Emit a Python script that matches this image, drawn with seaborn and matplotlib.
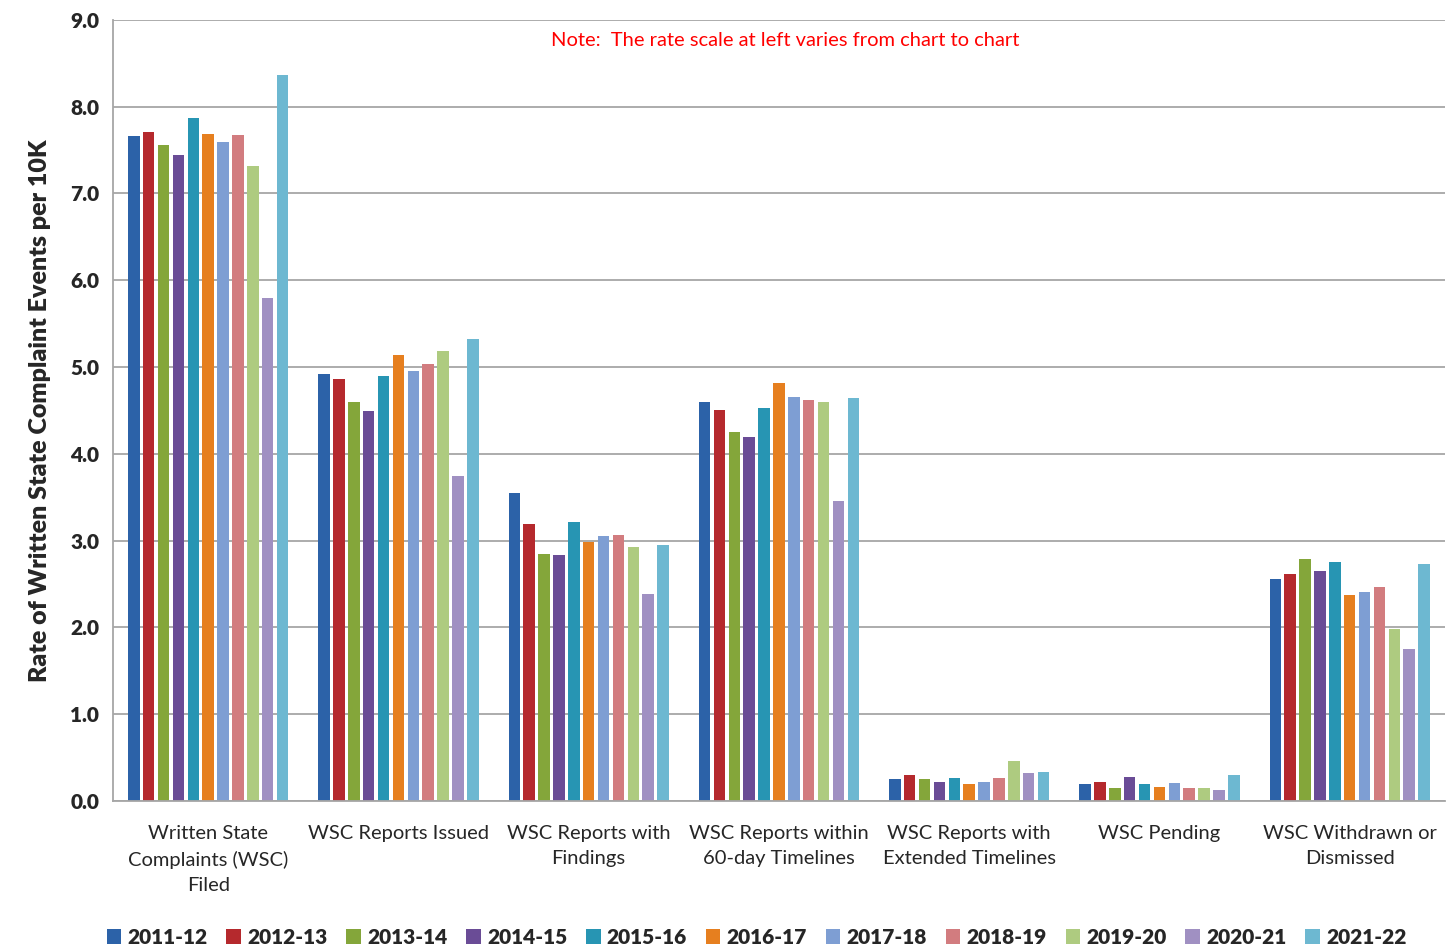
import pandas as pd
import matplotlib.pyplot as plt
import seaborn as sns
from matplotlib.ticker import FixedLocator

categories = [
    "Written State\nComplaints (WSC)\nFiled",
    "WSC Reports Issued",
    "WSC Reports with\nFindings",
    "WSC Reports within\n60-day Timelines",
    "WSC Reports with\nExtended Timelines",
    "WSC Pending",
    "WSC Withdrawn or\nDismissed",
]
years = ["2011-12", "2012-13", "2013-14", "2014-15", "2015-16", "2016-17",
         "2017-18", "2018-19", "2019-20", "2020-21", "2021-22"]

# one list per year, values in category order
y2011 = [7.66, 4.92, 3.55, 4.60, 0.25, 0.19, 2.56]
y2012 = [7.71, 4.86, 3.19, 4.51, 0.30, 0.22, 2.62]
y2013 = [7.56, 4.60, 2.85, 4.25, 0.25, 0.15, 2.79]
y2014 = [7.44, 4.49, 2.83, 4.19, 0.22, 0.28, 2.65]
y2015 = [7.87, 4.90, 3.21, 4.53, 0.26, 0.20, 2.75]
y2016 = [7.68, 5.14, 2.98, 4.82, 0.19, 0.16, 2.37]
y2017 = [7.59, 4.96, 3.05, 4.65, 0.22, 0.21, 2.41]
y2018 = [7.67, 5.03, 3.06, 4.62, 0.27, 0.15, 2.47]
y2019 = [7.32, 5.18, 2.93, 4.60, 0.46, 0.15, 1.98]
y2020 = [5.79, 3.75, 2.39, 3.46, 0.32, 0.13, 1.75]
y2021 = [8.37, 5.32, 2.95, 4.64, 0.33, 0.30, 2.73]

series = [y2011, y2012, y2013, y2014, y2015, y2016,
          y2017, y2018, y2019, y2020, y2021]

colors = ["#2C62A8", "#B5292D", "#84A63A", "#6A4C96", "#2795B3", "#E67F1F",
          "#7E9ED3", "#D27C7F", "#AECB80", "#A090C2", "#6DB8D1"]

rows = []
for yr, vals in zip(years, series):
    for cat, v in zip(categories, vals):
        rows.append({"category": cat, "year": yr, "rate": v})
df = pd.DataFrame(rows)

sns.set_style("white")
plt.rcParams["font.family"] = ["Lato", "DejaVu Sans"]

fig = plt.figure(figsize=(14.55, 9.49), dpi=100)
ax = fig.add_axes([0.0777, 0.156, 0.9153, 0.823])

sns.barplot(data=df, x="category", y="rate", hue="year", palette=colors,
            order=categories, hue_order=years, width=0.86, gap=0.22,
            saturation=1, edgecolor="none", ax=ax, legend=True)

ax.set_ylim(0, 9.0)
ax.set_xlim(-0.5, len(categories) - 0.5)
ax.set_yticks([i * 1.0 for i in range(10)])
ax.set_yticklabels([f"{i:.1f}" for i in range(10)], fontsize=15, fontweight="heavy")
ax.yaxis.grid(True, color="#A6A6A6", linewidth=1.3)
ax.set_axisbelow(True)

ax.tick_params(axis="x", length=0, labelsize=14.5, pad=17)
for lbl in ax.get_xticklabels():
    lbl.set_linespacing(1.6)
ax.tick_params(axis="y", length=0, pad=10)
ax.xaxis.set_minor_locator(FixedLocator([i - 0.5 for i in range(len(categories) + 1)]))
ax.tick_params(axis="x", which="minor", length=7, color="#A6A6A6", width=1.3)

for s in ["top", "right"]:
    ax.spines[s].set_visible(False)
ax.spines["left"].set_color("#A6A6A6")
ax.spines["bottom"].set_color("#A6A6A6")
ax.spines["left"].set_linewidth(1.3)
ax.spines["bottom"].set_linewidth(1.3)

ax.set_xlabel("")
ax.set_ylabel("Rate of Written State Complaint Events per 10K",
              fontsize=18, fontweight="heavy", labelpad=14)

ax.text(0.505, 0.974, "Note:  The rate scale at left varies from chart to chart",
        transform=ax.transAxes, color="red", fontsize=14.5, ha="center", va="center")

handles, labels = ax.get_legend_handles_labels()
ax.get_legend().remove()
fig.legend(handles, labels, loc="center", bbox_to_anchor=(0.52, 1 - 937 / 949),
           ncol=11, frameon=False, prop={"weight": "heavy", "size": 15},
           handlelength=0.7, handleheight=0.7, handletextpad=0.3, columnspacing=0.9,
           borderpad=0)

fig.savefig("out.png", dpi=100)
